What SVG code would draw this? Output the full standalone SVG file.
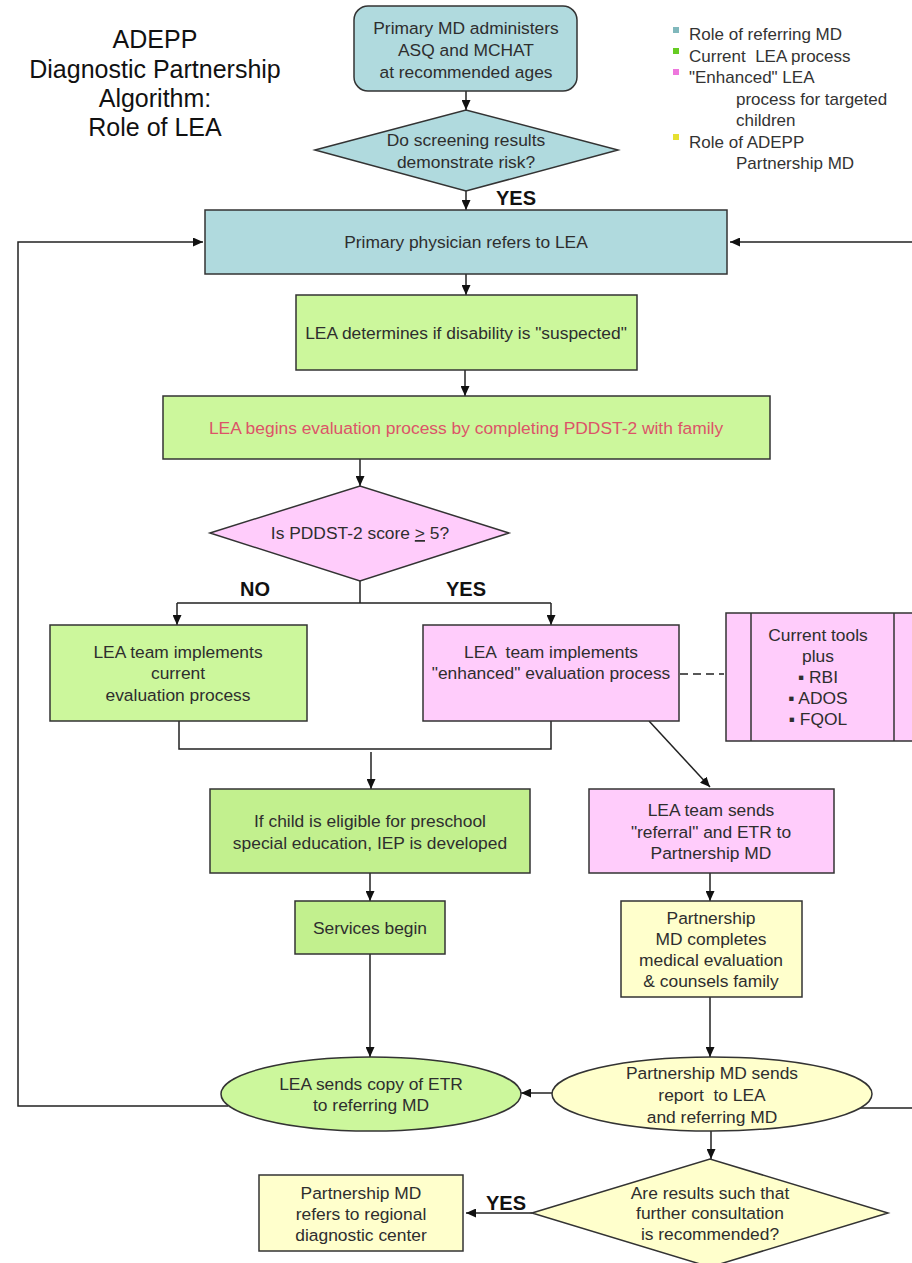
<svg xmlns="http://www.w3.org/2000/svg" width="912" height="1263" viewBox="0 0 912 1263">
<defs>
<marker id="ah" markerUnits="userSpaceOnUse" markerWidth="10" markerHeight="9" refX="10" refY="4.5" orient="auto">
<path d="M0,0 L10,4.5 L0,9 z" fill="#111"/>
</marker>
<style>
.t{font-family:"Liberation Sans",Arial,sans-serif;font-size:17.4px;fill:#2e2e2e;text-anchor:middle}
.title{font-family:"Liberation Sans",Arial,sans-serif;font-size:25px;fill:#111;text-anchor:middle}
.lg{font-family:"Liberation Sans",Arial,sans-serif;font-size:17px;fill:#333}
.lbl{font-family:"Liberation Sans",Arial,sans-serif;font-size:20px;font-weight:bold;fill:#111;text-anchor:middle}
.teal{fill:#b0dade;stroke:#333;stroke-width:1.5}
.green{fill:#ccf79c;stroke:#333;stroke-width:1.5}
.green2{fill:#c2f08e;stroke:#333;stroke-width:1.5}
.pink{fill:#ffccfb;stroke:#333;stroke-width:1.5}
.yellow{fill:#ffffcc;stroke:#333;stroke-width:1.5}
.c{fill:none;stroke:#222;stroke-width:1.5}
.ca{fill:none;stroke:#222;stroke-width:1.5;marker-end:url(#ah)}
</style>
</defs>
<rect width="912" height="1263" fill="#ffffff"/>

<g id="title">
<text class="title" x="155" y="48">ADEPP</text>
<text class="title" x="155" y="78">Diagnostic Partnership</text>
<text class="title" x="155" y="107">Algorithm:</text>
<text class="title" x="155" y="136">Role of LEA</text>
</g>

<g id="legend">
<rect x="673" y="27" width="6" height="6" fill="#80b8bc"/>
<rect x="673" y="48" width="6" height="6" fill="#66cc22"/>
<rect x="673" y="69" width="6" height="6" fill="#ee77dd"/>
<rect x="673" y="134" width="6" height="6" fill="#e6e030"/>
<text class="lg" x="689" y="40">Role of referring MD</text>
<text class="lg" x="689" y="62" xml:space="preserve">Current  LEA process</text>
<text class="lg" x="689" y="83">"Enhanced" LEA</text>
<text class="lg" x="736" y="105">process for targeted</text>
<text class="lg" x="736" y="126">children</text>
<text class="lg" x="689" y="148">Role of ADEPP</text>
<text class="lg" x="736" y="169">Partnership MD</text>
</g>

<g id="connectors">
<path class="ca" d="M466,91 V110"/>
<path class="ca" d="M466,191 V210"/>
<path class="ca" d="M466,274 V295"/>
<path class="ca" d="M465,370 V396"/>
<path class="ca" d="M360,459 V486"/>
<path class="c" d="M360,581 V603 M177,603 H551"/>
<path class="ca" d="M177,603 V625"/>
<path class="ca" d="M551,603 V625"/>
<path class="c" d="M680,674 H724" stroke-dasharray="8,5"/>
<path class="c" d="M179,721 V749 H551 V721"/>
<path class="ca" d="M371,752 V789"/>
<path class="ca" d="M649,721 L710,787"/>
<path class="ca" d="M370,873 V901"/>
<path class="ca" d="M710,873 V901"/>
<path class="ca" d="M370,954 V1057"/>
<path class="ca" d="M710,997 V1057"/>
<path class="ca" d="M552,1093 H521"/>
<path class="ca" d="M711,1131 V1159"/>
<path class="ca" d="M532,1213 H466"/>
<path class="ca" d="M228,1106 H18 V242 H203"/>
<path class="ca" d="M860,1108 H918 V242 H730"/>
<text class="lbl" x="516" y="205">YES</text>
<text class="lbl" x="255" y="596">NO</text>
<text class="lbl" x="466" y="596">YES</text>
<text class="lbl" x="506" y="1210">YES</text>
</g>

<g id="n1">
<rect class="teal" x="354" y="6" width="223" height="85" rx="14"/>
<text class="t" x="466" y="34">Primary MD administers</text>
<text class="t" x="466" y="56">ASQ and MCHAT</text>
<text class="t" x="466" y="78">at recommended ages</text>
</g>

<g id="d1">
<polygon class="teal" points="315,150 466,110 618,150 466,191"/>
<text class="t" x="466" y="146">Do screening results</text>
<text class="t" x="466" y="168">demonstrate risk?</text>
</g>

<g id="n2">
<rect class="teal" x="205" y="210" width="522" height="64"/>
<text class="t" x="466" y="248">Primary physician refers to LEA</text>
</g>

<g id="n3">
<rect class="green" x="296" y="295" width="341" height="75"/>
<text class="t" x="466" y="339">LEA determines if disability is "suspected"</text>
</g>

<g id="n4">
<rect class="green" x="163" y="396" width="607" height="63"/>
<text class="t" x="466" y="434" style="fill:#dc5468">LEA begins evaluation process by completing PDDST-2 with family</text>
</g>

<g id="d2">
<polygon class="pink" points="210,533 360,486 509,533 360,581"/>
<text class="t" x="360" y="539">Is PDDST-2 score <tspan text-decoration="underline">&gt;</tspan> 5?</text>
</g>

<g id="n5">
<rect class="green" x="50" y="625" width="257" height="96"/>
<text class="t" x="178" y="658">LEA team implements</text>
<text class="t" x="178" y="679">current</text>
<text class="t" x="178" y="701">evaluation process</text>
</g>

<g id="n6">
<rect class="pink" x="423" y="625" width="256" height="96"/>
<text class="t" x="551" y="658" xml:space="preserve">LEA  team implements</text>
<text class="t" x="551" y="679">"enhanced" evaluation process</text>
</g>

<g id="n7">
<rect class="pink" x="726" y="613" width="210" height="128"/>
<path class="c" d="M751,613 V741 M894,613 V741" style="stroke:#333"/>
<text class="t" x="818" y="641">Current tools</text>
<text class="t" x="818" y="662">plus</text>
<text class="t" x="818" y="683">▪ RBI</text>
<text class="t" x="818" y="704">▪ ADOS</text>
<text class="t" x="818" y="725">▪ FQOL</text>
</g>

<g id="n8">
<rect class="green2" x="210" y="789" width="320" height="84"/>
<text class="t" x="370" y="827">If child is eligible for preschool</text>
<text class="t" x="370" y="849">special education, IEP is developed</text>
</g>

<g id="n9">
<rect class="pink" x="589" y="789" width="245" height="84"/>
<text class="t" x="711" y="816">LEA team sends</text>
<text class="t" x="711" y="838">"referral" and ETR to</text>
<text class="t" x="711" y="859">Partnership MD</text>
</g>

<g id="n10">
<rect class="green2" x="295" y="901" width="150" height="53"/>
<text class="t" x="370" y="934">Services begin</text>
</g>

<g id="n11">
<rect class="yellow" x="621" y="901" width="181" height="96"/>
<text class="t" x="711" y="924">Partnership</text>
<text class="t" x="711" y="945">MD completes</text>
<text class="t" x="711" y="966">medical evaluation</text>
<text class="t" x="711" y="987">&amp; counsels family</text>
</g>

<g id="n12">
<ellipse class="green" cx="371" cy="1094" rx="150" ry="37"/>
<text class="t" x="371" y="1090">LEA sends copy of ETR</text>
<text class="t" x="371" y="1111">to referring MD</text>
</g>

<g id="n13">
<ellipse class="yellow" cx="712" cy="1094" rx="160" ry="37"/>
<text class="t" x="712" y="1079">Partnership MD sends</text>
<text class="t" x="712" y="1101" xml:space="preserve">report  to LEA</text>
<text class="t" x="712" y="1123">and referring MD</text>
</g>

<g id="d3">
<polygon class="yellow" points="532,1213 710,1159 888,1213 710,1267"/>
<text class="t" x="710" y="1199">Are results such that</text>
<text class="t" x="710" y="1219">further consultation</text>
<text class="t" x="710" y="1240">is recommended?</text>
</g>

<g id="n14">
<rect class="yellow" x="259" y="1175" width="204" height="76"/>
<text class="t" x="361" y="1199">Partnership MD</text>
<text class="t" x="361" y="1220">refers to regional</text>
<text class="t" x="361" y="1241">diagnostic center</text>
</g>
</svg>
